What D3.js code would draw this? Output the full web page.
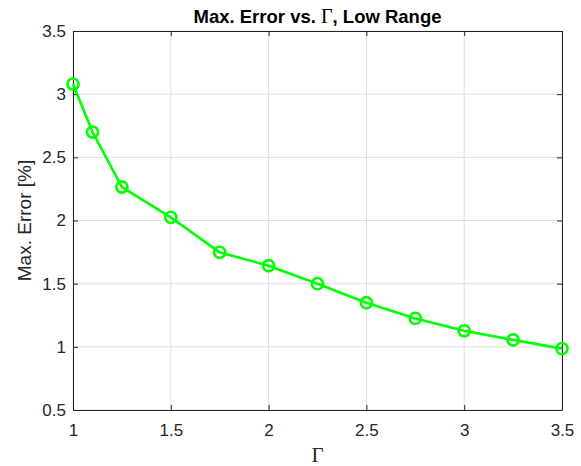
<!DOCTYPE html>
<html>
<head>
<meta charset="utf-8">
<script src="https://cdnjs.cloudflare.com/ajax/libs/d3/7.8.5/d3.min.js"></script>
<style>
  body { margin: 0; background: #fff; }
  svg text { font-family: "Liberation Sans", Arial, sans-serif; }
</style>
</head>
<body>
<script>
// data
var gammaVals = [1, 1.1, 1.25, 1.5, 1.75, 2, 2.25, 2.5, 2.75, 3, 3.25, 3.5];
var maxError = [3.08, 2.70, 2.265, 2.025, 1.748, 1.642, 1.50, 1.349, 1.225, 1.127, 1.055, 0.986];
var xTicks = [1, 1.5, 2, 2.5, 3, 3.5];
var yTicks = [0.5, 1, 1.5, 2, 2.5, 3, 3.5];

var width = 581, height = 466;
var margin = { top: 31, right: 19, bottom: 56, left: 73 };
var innerW = width - margin.left - margin.right;
var innerH = height - margin.top - margin.bottom;

var svg = d3.select('body').append('svg')
    .attr('width', width)
    .attr('height', height);

var xScale = d3.scaleLinear().domain([1, 3.5]).range([0, innerW]);
var yScale = d3.scaleLinear().domain([0.5, 3.5]).range([innerH, 0]);

var g = svg.append('g').attr('transform', `translate(${margin.left},${margin.top})`);

// grid
g.selectAll('.vgrid').data(xTicks).enter().append('line')
    .attr('x1', d => xScale(d)).attr('x2', d => xScale(d))
    .attr('y1', 0).attr('y2', innerH)
    .attr('stroke', '#dfdfdf').attr('stroke-width', 1);
g.selectAll('.hgrid').data(yTicks).enter().append('line')
    .attr('x1', 0).attr('x2', innerW)
    .attr('y1', d => yScale(d)).attr('y2', d => yScale(d))
    .attr('stroke', '#dfdfdf').attr('stroke-width', 1);

// axes, ticks pointing inward
var axisColor = '#262626';
var xAxis = d3.axisBottom(xScale).tickValues(xTicks).tickSizeInner(-5).tickSizeOuter(0).tickPadding(14).tickFormat(d3.format('~g'));
var yAxis = d3.axisLeft(yScale).tickValues(yTicks).tickSizeInner(-5).tickSizeOuter(0).tickPadding(7).tickFormat(d3.format('~g'));
var xTop = d3.axisTop(xScale).tickValues(xTicks).tickSizeInner(-5).tickSizeOuter(0).tickFormat('');
var yRight = d3.axisRight(yScale).tickValues(yTicks).tickSizeInner(-5).tickSizeOuter(0).tickFormat('');

function styleAxis(sel) {
    sel.selectAll('path, line').attr('stroke', axisColor);
    sel.selectAll('text').attr('fill', axisColor).style('font-size', '17px')
        .style('font-family', '"Liberation Sans", Arial, sans-serif');
}

g.append('g').attr('transform', `translate(0,${innerH})`).call(xAxis).call(styleAxis);
g.append('g').call(yAxis).call(styleAxis);
g.append('g').call(xTop).call(styleAxis);
g.append('g').attr('transform', `translate(${innerW},0)`).call(yRight).call(styleAxis);

// line + markers
var line = d3.line().x((d, i) => xScale(gammaVals[i])).y(d => yScale(d));
g.append('path')
    .datum(maxError)
    .attr('d', line)
    .attr('fill', 'none')
    .attr('stroke', '#00ff00')
    .attr('stroke-width', 2.6)
    .attr('stroke-linejoin', 'round');

g.selectAll('circle').data(maxError).enter().append('circle')
    .attr('cx', (d, i) => xScale(gammaVals[i]))
    .attr('cy', d => yScale(d))
    .attr('r', 5.6)
    .attr('fill', 'none')
    .attr('stroke', '#00ff00')
    .attr('stroke-width', 2.6);

// title
var title = svg.append('text')
    .attr('x', margin.left + innerW / 2)
    .attr('y', 23)
    .attr('text-anchor', 'middle')
    .attr('fill', '#000')
    .style('font-size', '18.5px')
    .style('font-weight', 'bold');
title.append('tspan').text('Max. Error vs. ');
title.append('tspan').text('Γ').style('font-family', '"Liberation Serif", "Times New Roman", serif').style('font-weight', 'normal').style('font-size', '20px');
title.append('tspan').text(', Low Range');

// axis labels
svg.append('text')
    .attr('x', margin.left + innerW / 2)
    .attr('y', 462)
    .attr('text-anchor', 'middle')
    .attr('fill', axisColor)
    .style('font-family', '"Liberation Serif", "Times New Roman", serif')
    .style('font-size', '21px')
    .text('Γ');

svg.append('text')
    .attr('transform', `translate(31,${margin.top + innerH / 2}) rotate(-90)`)
    .attr('text-anchor', 'middle')
    .attr('fill', axisColor)
    .style('font-size', '19px')
    .text('Max. Error [%]');
</script>
</body>
</html>
